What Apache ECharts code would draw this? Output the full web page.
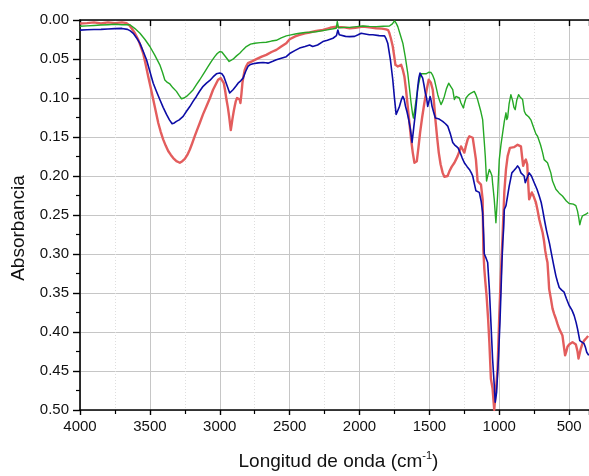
<!DOCTYPE html>
<html>
<head>
<meta charset="utf-8">
<script src="https://cdn.jsdelivr.net/npm/echarts@6/dist/echarts.min.js"></script>
<style>
  html, body { margin: 0; padding: 0; background: #fff; }
  #chart { width: 589px; height: 476px; }
</style>
</head>
<body>
<div id="chart"></div>
<script>
// FTIR spectra: [wavenumber (cm-1), absorbance]
const blueSpectrum = [[4000,0.013],[3950,0.0125],[3900,0.0122],[3850,0.012],[3800,0.0115],[3750,0.011],[3700,0.0108],[3660,0.012],[3640,0.014],[3619,0.017],[3595,0.023],[3571,0.030],[3548,0.040],[3524,0.051],[3500,0.066],[3476,0.081],[3452,0.092],[3429,0.102],[3405,0.112],[3381,0.121],[3360,0.128],[3341,0.133],[3325,0.132],[3310,0.130],[3290,0.128],[3262,0.1235],[3238,0.117],[3214,0.111],[3190,0.104],[3167,0.098],[3143,0.091],[3119,0.085],[3095,0.081],[3071,0.0775],[3048,0.073],[3024,0.069],[3000,0.068],[2985,0.069],[2971,0.0724],[2950,0.083],[2929,0.0936],[2915,0.092],[2905,0.0894],[2885,0.085],[2869,0.081],[2850,0.078],[2833,0.0745],[2815,0.066],[2798,0.0596],[2780,0.057],[2762,0.056],[2725,0.055],[2690,0.0545],[2670,0.0548],[2655,0.0553],[2620,0.053],[2595,0.051],[2560,0.049],[2524,0.047],[2500,0.043],[2460,0.039],[2429,0.036],[2390,0.034],[2357,0.032],[2335,0.034],[2321,0.036],[2300,0.032],[2262,0.0277],[2230,0.026],[2190,0.0234],[2165,0.020],[2155,0.0128],[2145,0.019],[2131,0.019],[2100,0.021],[2071,0.0213],[2035,0.021],[2010,0.019],[1988,0.017],[1960,0.018],[1930,0.019],[1905,0.019],[1860,0.020],[1821,0.0204],[1810,0.024],[1798,0.0298],[1779,0.051],[1762,0.0766],[1750,0.10],[1738,0.121],[1726,0.116],[1714,0.1107],[1700,0.102],[1690,0.098],[1680,0.102],[1671,0.1107],[1660,0.118],[1648,0.1277],[1636,0.140],[1624,0.157],[1612,0.138],[1600,0.119],[1590,0.100],[1583,0.085],[1575,0.074],[1567,0.068],[1558,0.070],[1548,0.0745],[1538,0.084],[1529,0.0936],[1520,0.100],[1512,0.1107],[1503,0.104],[1495,0.098],[1488,0.103],[1481,0.1107],[1470,0.118],[1457,0.1256],[1430,0.127],[1405,0.130],[1385,0.133],[1369,0.136],[1350,0.146],[1333,0.157],[1320,0.160],[1310,0.162],[1295,0.164],[1280,0.170],[1265,0.177],[1250,0.183],[1230,0.188],[1214,0.1916],[1200,0.196],[1190,0.200],[1178,0.210],[1167,0.219],[1155,0.220],[1143,0.221],[1130,0.232],[1119,0.247],[1112,0.275],[1107,0.300],[1095,0.305],[1083,0.311],[1077,0.328],[1071,0.345],[1060,0.387],[1048,0.434],[1036,0.468],[1029,0.490],[1019,0.477],[1005,0.430],[995,0.387],[988,0.350],[981,0.311],[975,0.285],[969,0.268],[964,0.243],[952,0.238],[940,0.225],[929,0.213],[920,0.205],[910,0.196],[895,0.193],[881,0.190],[869,0.187],[857,0.190],[845,0.196],[833,0.195],[822,0.200],[814,0.2086],[800,0.202],[786,0.196],[770,0.200],[750,0.2086],[730,0.217],[714,0.2257],[700,0.234],[690,0.243],[675,0.258],[662,0.270],[655,0.2725],[640,0.287],[624,0.302],[610,0.315],[595,0.328],[583,0.336],[571,0.343],[555,0.346],[536,0.349],[520,0.357],[500,0.366],[480,0.372],[464,0.379],[450,0.388],[440,0.396],[424,0.411],[410,0.413],[393,0.415],[383,0.420],[374,0.426],[360,0.430]];

const redSpectrum = [[4000,0.0045],[3950,0.004],[3900,0.003],[3850,0.0045],[3800,0.003],[3750,0.004],[3700,0.003],[3667,0.004],[3645,0.007],[3631,0.0106],[3607,0.017],[3583,0.0255],[3565,0.034],[3548,0.0426],[3530,0.057],[3512,0.0724],[3494,0.087],[3476,0.102],[3458,0.117],[3440,0.132],[3423,0.143],[3405,0.153],[3387,0.161],[3369,0.168],[3350,0.173],[3333,0.177],[3310,0.181],[3286,0.183],[3268,0.181],[3250,0.178],[3232,0.173],[3214,0.166],[3197,0.158],[3179,0.149],[3160,0.140],[3143,0.132],[3120,0.121],[3095,0.1107],[3070,0.100],[3048,0.0894],[3030,0.083],[3012,0.0766],[2993,0.0745],[2982,0.077],[2971,0.081],[2962,0.090],[2952,0.102],[2942,0.112],[2933,0.1235],[2926,0.134],[2921,0.141],[2915,0.134],[2910,0.1277],[2900,0.117],[2893,0.1107],[2885,0.104],[2876,0.100],[2865,0.100],[2858,0.102],[2852,0.1064],[2845,0.095],[2838,0.081],[2830,0.072],[2821,0.0639],[2810,0.059],[2798,0.0553],[2770,0.053],[2738,0.0502],[2700,0.047],[2667,0.0447],[2630,0.041],[2595,0.0383],[2560,0.034],[2524,0.0298],[2500,0.0247],[2460,0.021],[2429,0.0192],[2390,0.017],[2357,0.016],[2310,0.014],[2262,0.0128],[2210,0.010],[2167,0.0085],[2159,0.006],[2150,0.009],[2110,0.0095],[2071,0.0106],[2030,0.010],[1976,0.0085],[1930,0.0095],[1881,0.0106],[1840,0.011],[1810,0.012],[1795,0.013],[1786,0.017],[1775,0.024],[1762,0.034],[1752,0.046],[1743,0.0575],[1726,0.0596],[1715,0.058],[1702,0.0575],[1690,0.064],[1679,0.0724],[1667,0.090],[1655,0.1107],[1643,0.132],[1631,0.153],[1619,0.170],[1607,0.183],[1598,0.184],[1590,0.181],[1578,0.163],[1567,0.145],[1552,0.125],[1536,0.1064],[1520,0.090],[1505,0.0766],[1498,0.075],[1490,0.080],[1476,0.0894],[1466,0.108],[1457,0.1277],[1445,0.150],[1433,0.170],[1420,0.185],[1405,0.196],[1393,0.201],[1381,0.2035],[1370,0.200],[1357,0.194],[1340,0.188],[1321,0.183],[1310,0.179],[1298,0.1745],[1285,0.168],[1274,0.162],[1262,0.166],[1250,0.170],[1238,0.161],[1226,0.153],[1214,0.149],[1202,0.148],[1190,0.151],[1180,0.163],[1167,0.179],[1160,0.195],[1155,0.2065],[1143,0.209],[1131,0.211],[1119,0.230],[1116,0.268],[1114,0.294],[1107,0.319],[1100,0.335],[1091,0.353],[1080,0.383],[1071,0.413],[1060,0.460],[1048,0.4725],[1036,0.500],[1024,0.500],[1012,0.447],[1000,0.379],[988,0.3235],[976,0.275],[964,0.221],[952,0.1916],[940,0.1745],[924,0.164],[910,0.166],[895,0.163],[881,0.162],[869,0.160],[857,0.1575],[845,0.162],[837,0.175],[829,0.187],[820,0.182],[810,0.179],[800,0.185],[793,0.210],[786,0.230],[776,0.225],[767,0.221],[752,0.227],[738,0.234],[726,0.244],[714,0.2555],[702,0.264],[690,0.2725],[680,0.283],[671,0.296],[662,0.305],[655,0.311],[648,0.330],[643,0.345],[630,0.358],[619,0.370],[607,0.377],[595,0.383],[583,0.390],[571,0.396],[560,0.400],[548,0.4045],[538,0.418],[529,0.430],[520,0.425],[512,0.419],[500,0.416],[488,0.415],[476,0.413],[464,0.415],[452,0.416],[440,0.425],[433,0.434],[425,0.428],[417,0.4215],[405,0.415],[393,0.411],[378,0.408],[364,0.405]];

const greenSpectrum = [[4000,0.008],[3950,0.0075],[3900,0.007],[3850,0.0065],[3800,0.006],[3750,0.0055],[3700,0.006],[3643,0.006],[3607,0.011],[3571,0.017],[3535,0.025],[3500,0.034],[3465,0.045],[3429,0.0575],[3410,0.067],[3393,0.077],[3375,0.080],[3357,0.082],[3335,0.087],[3310,0.0915],[3290,0.097],[3274,0.101],[3256,0.100],[3238,0.098],[3214,0.094],[3190,0.0894],[3167,0.083],[3143,0.0766],[3113,0.068],[3083,0.0596],[3060,0.053],[3036,0.047],[3018,0.043],[3000,0.0405],[2985,0.041],[2971,0.0434],[2950,0.049],[2933,0.0532],[2920,0.052],[2905,0.0502],[2880,0.046],[2857,0.0426],[2833,0.038],[2810,0.034],[2780,0.031],[2750,0.0298],[2710,0.029],[2667,0.0285],[2630,0.027],[2595,0.026],[2560,0.023],[2524,0.0204],[2490,0.019],[2460,0.018],[2429,0.017],[2390,0.016],[2357,0.0157],[2310,0.015],[2262,0.0136],[2210,0.012],[2167,0.0106],[2159,0.002],[2150,0.010],[2110,0.0095],[2071,0.0094],[2020,0.0085],[1976,0.0077],[1930,0.0082],[1881,0.0085],[1830,0.008],[1786,0.0077],[1765,0.005],[1750,0.001],[1738,0.004],[1726,0.0085],[1710,0.018],[1690,0.0298],[1672,0.048],[1655,0.068],[1643,0.087],[1631,0.1064],[1620,0.121],[1614,0.1256],[1605,0.115],[1595,0.102],[1583,0.088],[1571,0.0766],[1560,0.069],[1552,0.0673],[1540,0.069],[1524,0.069],[1505,0.067],[1488,0.0673],[1476,0.071],[1464,0.0766],[1452,0.086],[1440,0.0958],[1428,0.103],[1417,0.1085],[1405,0.104],[1393,0.098],[1378,0.088],[1362,0.081],[1348,0.085],[1333,0.0894],[1321,0.102],[1310,0.098],[1298,0.0958],[1286,0.100],[1274,0.1064],[1257,0.1128],[1248,0.106],[1238,0.100],[1220,0.096],[1202,0.0936],[1190,0.0915],[1179,0.0915],[1167,0.096],[1155,0.102],[1143,0.110],[1131,0.118],[1119,0.1277],[1107,0.157],[1100,0.175],[1091,0.2065],[1083,0.200],[1071,0.1916],[1060,0.196],[1052,0.200],[1048,0.2086],[1036,0.230],[1030,0.245],[1024,0.260],[1012,0.225],[1000,0.179],[988,0.160],[976,0.145],[964,0.130],[952,0.119],[946,0.1277],[940,0.125],[930,0.108],[917,0.0958],[905,0.103],[895,0.112],[886,0.115],[875,0.103],[862,0.0958],[850,0.099],[833,0.102],[821,0.117],[810,0.121],[790,0.124],[774,0.128],[750,0.140],[738,0.146],[726,0.149],[705,0.160],[690,0.170],[679,0.179],[665,0.181],[655,0.183],[631,0.196],[619,0.2065],[595,0.217],[571,0.222],[548,0.2257],[520,0.232],[500,0.2353],[488,0.234],[470,0.236],[452,0.238],[440,0.245],[430,0.255],[424,0.2625],[415,0.256],[405,0.251],[393,0.251],[380,0.249],[364,0.247]];

// Axis ranges and ticks
const waveRange = [4000, 358];
const waveStep = 500;
const absRange = [0, 0.5];
const absStep = 0.05;

const FONT = 'Liberation Sans, Arial, Helvetica, sans-serif';

// The wavenumber axis runs high-to-low; values are plotted as negatives so
// the ticks start at 4000 and step by 500 from the left edge.
const toPlot = pts => pts.map(p => [-p[0], p[1]]);

const chart = echarts.init(document.getElementById('chart'), null, { renderer: 'canvas' });

const lineSeries = (name, data, color, width) => ({
  name, type: 'line', data: toPlot(data), xAxisIndex: 0, yAxisIndex: 0,
  showSymbol: false, symbol: 'none', smooth: false, animation: false,
  lineStyle: { color, width, join: 'round' }, clip: true
});

chart.setOption({
  animation: false,
  backgroundColor: '#ffffff',
  grid: { left: 80, right: 0, top: 20, bottom: 64, containLabel: false },
  xAxis: [{
    type: 'value', position: 'bottom',
    min: -waveRange[0], max: -waveRange[1], interval: waveStep,
    axisLine: { show: true, onZero: false, lineStyle: { color: '#000', width: 1.6 } },
    axisTick: { show: true, inside: false, length: 5, lineStyle: { color: '#000', width: 1.4 } },
    minorTick: { show: true, splitNumber: 2, length: 4, lineStyle: { color: '#000', width: 1.2 } },
    splitLine: { show: true, lineStyle: { color: '#c6c6c6', width: 1 } },
    minorSplitLine: { show: true, lineStyle: { color: '#dedede', width: 1, type: [1, 2] } },
    axisLabel: { show: true, margin: 9, color: '#111', fontSize: 15, fontFamily: FONT,
      formatter: v => String(-v) },
    name: '{a|Longitud de onda (cm}{s|-1}{a|)}',
    nameLocation: 'middle', nameGap: 40,
    nameTextStyle: {
      padding: [0, 0, 0, 8],
      rich: {
        a: { fontSize: 19, fontFamily: FONT, color: '#111', lineHeight: 23 },
        s: { fontSize: 11, fontFamily: FONT, color: '#111', verticalAlign: 'top', lineHeight: 12 }
      }
    }
  }, {
    type: 'value', position: 'top',
    min: -waveRange[0], max: -waveRange[1], interval: waveStep,
    axisLine: { show: true, onZero: false, lineStyle: { color: '#000', width: 1.6 } },
    axisTick: { show: true, inside: true, length: 6, lineStyle: { color: '#000', width: 1.4 } },
    axisLabel: { show: false },
    splitLine: { show: false }
  }],
  yAxis: {
    type: 'value', inverse: true,
    min: absRange[0], max: absRange[1], interval: absStep,
    axisLine: { show: true, onZero: false, lineStyle: { color: '#000', width: 1.6 } },
    axisTick: { show: true, inside: false, length: 7, lineStyle: { color: '#000', width: 1.4 } },
    minorTick: { show: true, splitNumber: 2, length: 4, lineStyle: { color: '#000', width: 1.2 } },
    splitLine: { show: true, lineStyle: { color: '#c6c6c6', width: 1 } },
    axisLabel: { margin: 11, color: '#111', fontSize: 15, fontFamily: FONT,
      formatter: v => v.toFixed(2) },
    name: 'Absorbancia', nameLocation: 'middle', nameGap: 52, nameRotate: 90,
    nameTextStyle: { fontSize: 19, fontFamily: FONT, color: '#111', padding: [0, 26, 0, 0] }
  },
  series: [
    lineSeries('rojo', redSpectrum, '#e35d5d', 2.4),
    lineSeries('verde', greenSpectrum, '#25a825', 1.4),
    lineSeries('azul', blueSpectrum, '#0c0ca6', 1.6)
  ]
});
</script>
</body>
</html>
